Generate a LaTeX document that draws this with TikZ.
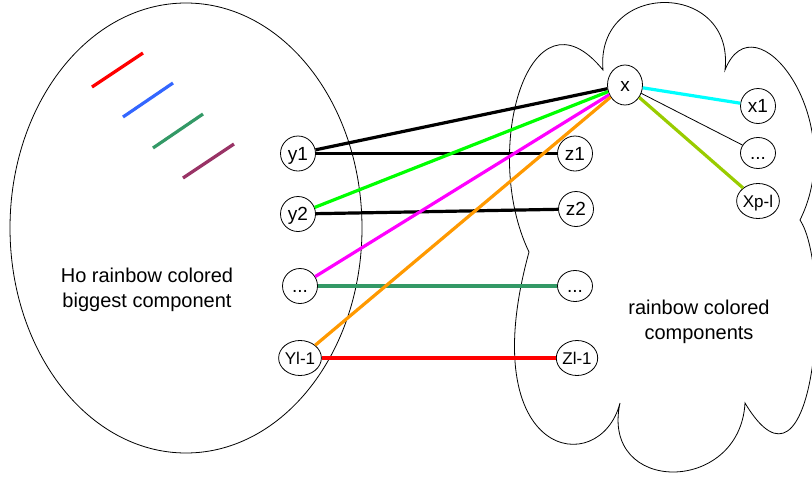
\documentclass[tikz,border=0pt]{standalone}
\usepackage{fontspec}
\setmainfont{Liberation Sans}
\usetikzlibrary{shapes.geometric}
\definecolor{cBlue}{HTML}{3366FF}
\definecolor{cPurple}{HTML}{993366}
\definecolor{cTeal}{HTML}{339966}
\definecolor{cGreen}{HTML}{00FF00}
\definecolor{cMagenta}{HTML}{FF00FF}
\definecolor{cOrange}{HTML}{FF9900}
\definecolor{cCyan}{HTML}{00FFFF}
\definecolor{cLime}{HTML}{99CC00}
\definecolor{cRed}{HTML}{FF0000}
\tikzset{
  vtx/.style={draw, ellipse, fill=white, inner sep=0pt, minimum width=35pt, minimum height=35pt,
    text height=13pt, text depth=0pt, font=\fontsize{19}{19}\selectfont, line width=0.8pt},
  smallvtx/.style={vtx, font=\fontsize{17}{17}\selectfont, text height=12pt},
  flat/.style={vtx, minimum height=31pt},
  tall/.style={vtx, minimum height=40pt},
  thickedge/.style={line width=3.2pt},
  thinedge/.style={line width=0.8pt},
  outline/.style={draw, line width=0.8pt},
  lbl/.style={align=center, font=\fontsize{20}{25}\selectfont},
}
\begin{document}
\begin{tikzpicture}[x=1pt,y=-1pt]
\useasboundingbox (0,0) rectangle (812,477);
% left ellipse
\draw[outline] (186,228) ellipse [x radius=176, y radius=225];
% cloud
\draw[outline] (603,70) .. controls (595,-20) and (735,-20) .. (725,70)
  .. controls (755,-5) and (850,120) .. (800,220)
  .. controls (833,270) and (815,520) .. (745,403)
  .. controls (740,495) and (600,495) .. (620,403)
  .. controls (600,480) and (472,460) .. (529,252)
  .. controls (480,150) and (530,-20) .. (603,70) -- cycle;
% colour strokes
\draw[thickedge, cRed] (92,87) -- (143,53);
\draw[thickedge, cBlue] (123,117) -- (173,83);
\draw[thickedge, cTeal] (153,148) -- (203,114);
\draw[thickedge, cPurple] (183,178) -- (234,144);
% texts
\node[lbl] (tl) at (147,290) {Ho rainbow colored\\biggest component};
\node[lbl] (tr) at (699,322) {rainbow colored\\components};
% nodes
\node[vtx] (y1) at (298,153.5) {y1};
\node[vtx] (y2) at (298,214) {y2};
\node[vtx] (yd) at (300,286) {...};
\node[smallvtx] (yl) at (300,358) {Yl-1};
\node[vtx] (z1) at (575,153.5) {z1};
\node[vtx] (z2) at (576,209) {z2};
\node[flat] (zd) at (575,286) {...};
\node[smallvtx] (zl) at (577,358) {Zl-1};
\node[tall] (x) at (625,85) {x};
\node[vtx] (x1) at (758,106) {x1};
\node[flat] (xd) at (758,153) {...};
\node[smallvtx] (xp) at (758,201) {Xp-l};
% edges
\draw[thickedge, black] (y1) -- (x);
\draw[thickedge, black] (y1) -- (z1);
\draw[thickedge, cGreen] (y2) -- (x);
\draw[thickedge, black] (y2) -- (z2);
\draw[thickedge, cMagenta] (yd) -- (x);
\draw[thickedge, cTeal] (yd) -- (zd);
\draw[thickedge, cOrange] (yl) -- (x);
\draw[thickedge, cRed] (yl) -- (zl);
\draw[thickedge, cCyan] (x) -- (x1);
\draw[thinedge, black] (x) -- (xd);
\draw[thickedge, cLime] (x) -- (xp);
\end{tikzpicture}
\end{document}
